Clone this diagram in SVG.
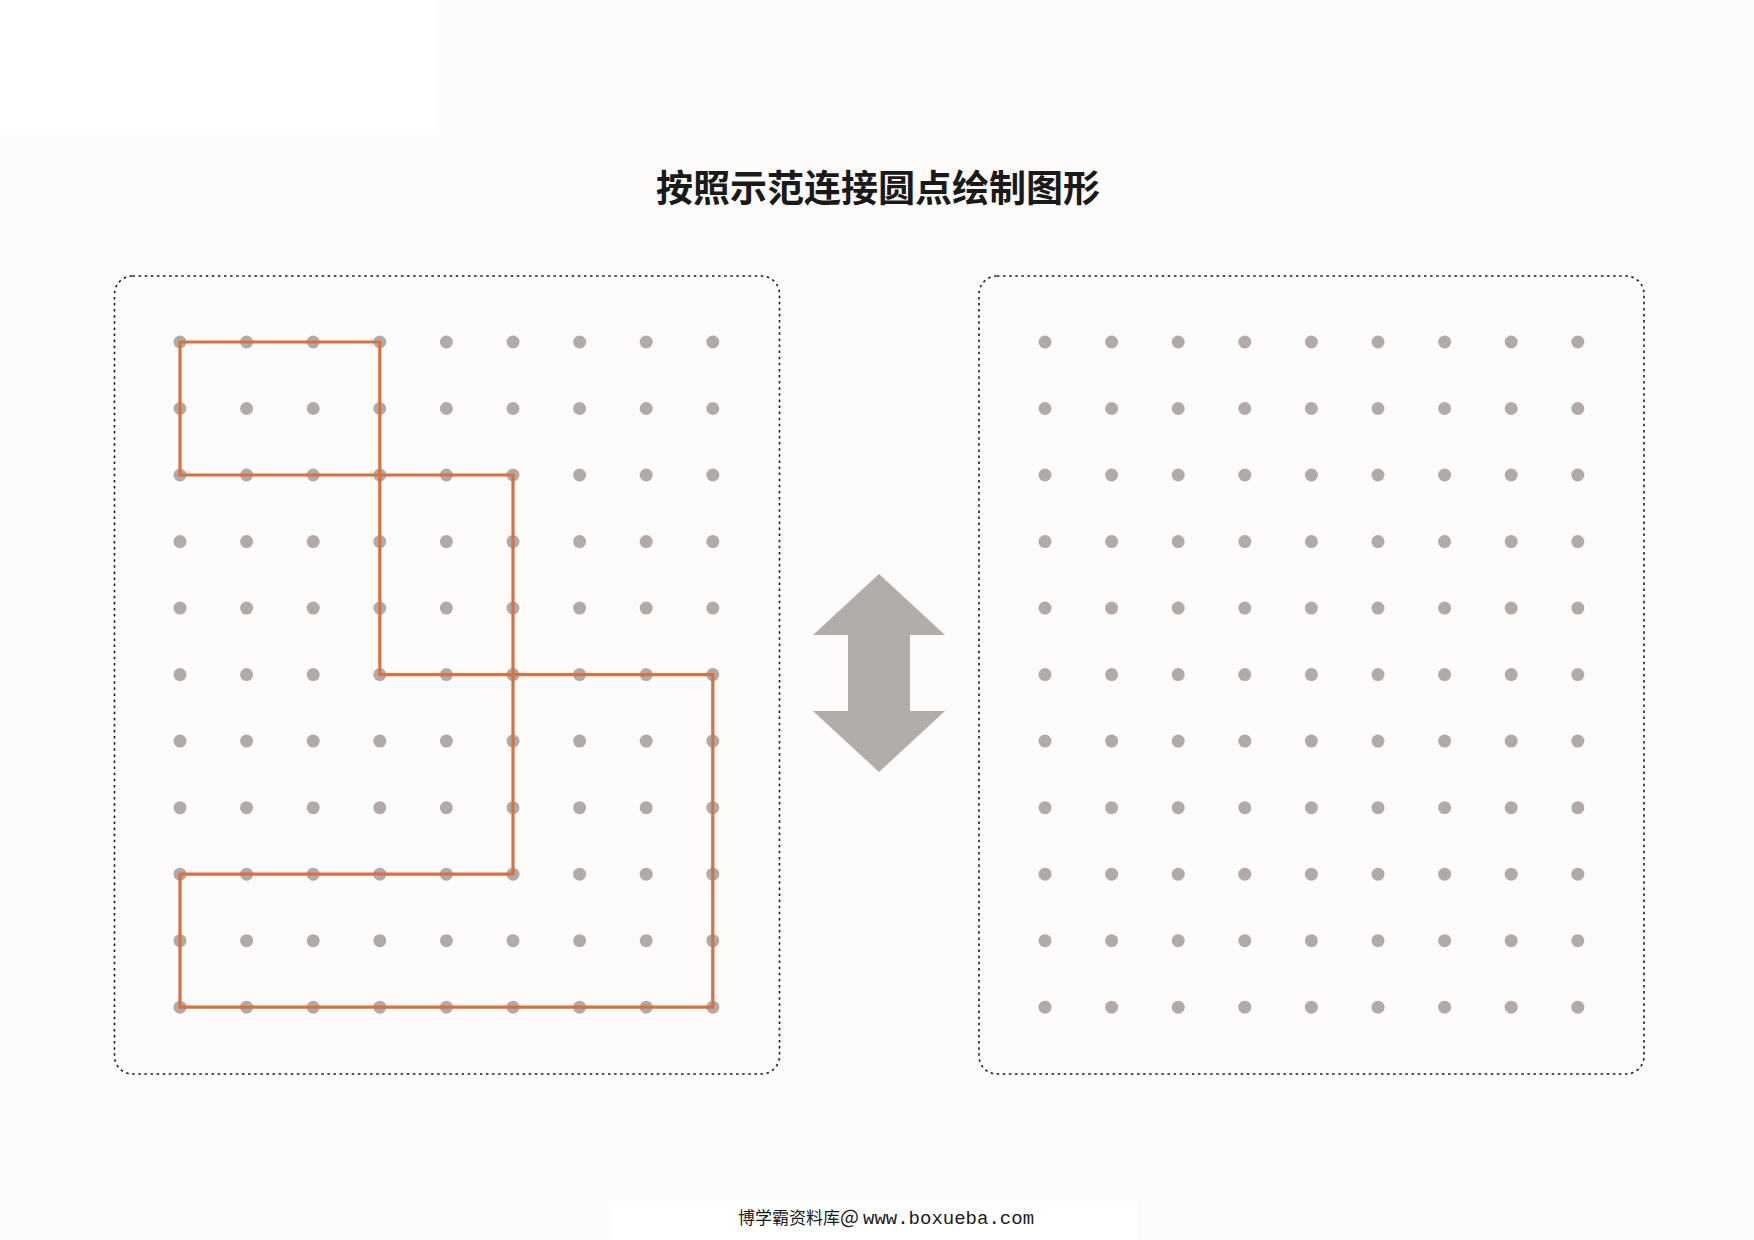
<svg xmlns="http://www.w3.org/2000/svg" xmlns:xlink="http://www.w3.org/1999/xlink" width="1754" height="1240" viewBox="0 0 1754 1240">
<style>
.frame{fill:none;stroke:#1a1a1a;stroke-width:1.6;stroke-dasharray:2.5 3.6}
.dot{fill:#b1aaa9}
.shape{fill:none;stroke:#d9713f;stroke-width:3.2;stroke-linecap:square;stroke-linejoin:miter}
.title{font-family:"Noto Sans CJK SC","Noto Sans",sans-serif;font-size:37px;font-weight:700;fill:#1a1a1a}
.foot{font-family:"Noto Sans CJK SC","Noto Sans",sans-serif;font-size:17px;fill:#1a1a1a}
.footm{font-family:"Liberation Mono","DejaVu Sans Mono",monospace;font-size:19px;fill:#1a1a1a}
</style>
<defs>
<g id="row">
<circle class="dot" cx="0" cy="0" r="6.5"/>
<circle class="dot" cx="66.6" cy="0" r="6.5"/>
<circle class="dot" cx="133.2" cy="0" r="6.5"/>
<circle class="dot" cx="199.8" cy="0" r="6.5"/>
<circle class="dot" cx="266.4" cy="0" r="6.5"/>
<circle class="dot" cx="333" cy="0" r="6.5"/>
<circle class="dot" cx="399.6" cy="0" r="6.5"/>
<circle class="dot" cx="466.2" cy="0" r="6.5"/>
<circle class="dot" cx="532.8" cy="0" r="6.5"/>
</g>
<g id="grid">
<use xlink:href="#row" href="#row" x="0" y="0"/>
<use xlink:href="#row" href="#row" x="0" y="66.5"/>
<use xlink:href="#row" href="#row" x="0" y="133"/>
<use xlink:href="#row" href="#row" x="0" y="199.6"/>
<use xlink:href="#row" href="#row" x="0" y="266.1"/>
<use xlink:href="#row" href="#row" x="0" y="332.6"/>
<use xlink:href="#row" href="#row" x="0" y="399.1"/>
<use xlink:href="#row" href="#row" x="0" y="465.7"/>
<use xlink:href="#row" href="#row" x="0" y="532.2"/>
<use xlink:href="#row" href="#row" x="0" y="598.7"/>
<use xlink:href="#row" href="#row" x="0" y="665.2"/>
</g>
</defs>
<rect x="0" y="0" width="1754" height="1240" fill="#fdfcfa"/>
<rect x="0" y="0" width="438" height="135" fill="#ffffff"/>
<rect x="610" y="1202" width="527" height="38" fill="#ffffff"/>

<g id="title">
<text class="title" x="878" y="202" text-anchor="middle">按照示范连接圆点绘制图形</text>
</g>

<g id="left-panel">
<rect class="frame" x="114.5" y="276" width="665" height="798" rx="18" ry="18"/>
<use xlink:href="#grid" href="#grid" x="180" y="342"/>
</g>

<g id="right-panel">
<rect class="frame" x="979" y="276" width="665" height="798" rx="18" ry="18"/>
<use xlink:href="#grid" href="#grid" x="1045" y="342"/>
</g>

<g id="arrow">
<polygon fill="#b2acab" points="879,574 945,635 910,635 910,711 945,711 879,772 813,711 848,711 848,635 813,635"/>
</g>

<g id="connectors">
<path class="shape" d="M180,342 H379.8 V475 H180 Z"/>
<path class="shape" d="M379.8,475 H513 V874.2 H180 V1007.2 H712.8 V674.6 H379.8 V475"/>
</g>

<g id="footer">
<text class="foot" x="738" y="1224">博学霸资料库<tspan x="840" style="font-size:20px">@</tspan><tspan class="footm" x="863">www.boxueba.com</tspan></text>
</g>
</svg>
